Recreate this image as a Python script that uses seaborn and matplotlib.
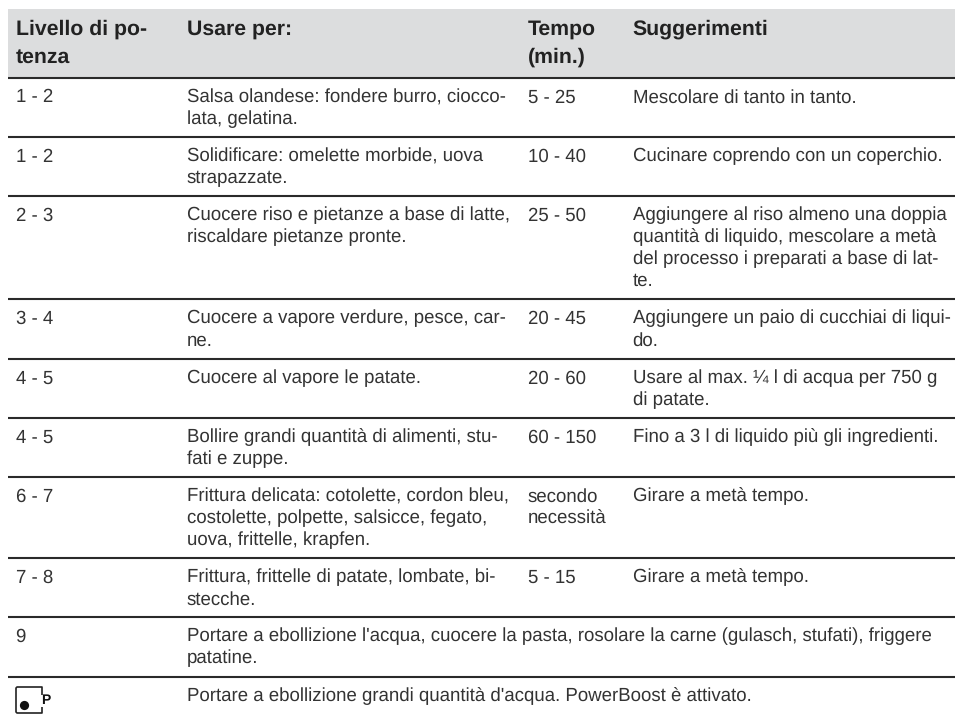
"""
Cooking table for the induction hob, drawn on a full-figure axes.
"""
import matplotlib
matplotlib.use('Agg')
import matplotlib.pyplot as plt
import seaborn as sns

headers = ['Livello di po-\ntenza', 'Usare per:', 'Tempo\n(min.)', 'Suggerimenti']

levels = ['1 - 2', '1 - 2', '2 - 3', '3 - 4', '4 - 5', '4 - 5', '6 - 7', '7 - 8', '9', '']

uses = [
    'Salsa olandese: fondere burro, ciocco-\nlata, gelatina.',
    'Solidificare: omelette morbide, uova\nstrapazzate.',
    'Cuocere riso e pietanze a base di latte,\nriscaldare pietanze pronte.',
    'Cuocere a vapore verdure, pesce, car-\nne.',
    'Cuocere al vapore le patate.',
    'Bollire grandi quantità di alimenti, stu-\nfati e zuppe.',
    'Frittura delicata: cotolette, cordon bleu,\ncostolette, polpette, salsicce, fegato,\nuova, frittelle, krapfen.',
    'Frittura, frittelle di patate, lombate, bi-\nstecche.',
    "Portare a ebollizione l'acqua, cuocere la pasta, rosolare la carne (gulasch, stufati), friggere\npatatine.",
    "Portare a ebollizione grandi quantità d'acqua. PowerBoost è attivato.",
]

times = ['5 - 25', '10 - 40', '25 - 50', '20 - 45', '20 - 60', '60 - 150',
         'secondo\nnecessità', '5 - 15', '', '']

hints = [
    'Mescolare di tanto in tanto.',
    'Cucinare coprendo con un coperchio.',
    'Aggiungere al riso almeno una doppia\nquantità di liquido, mescolare a metà\ndel processo i preparati a base di lat-\nte.',
    'Aggiungere un paio di cucchiai di liqui-\ndo.',
    'Usare al max. ¼ l di acqua per 750 g\ndi patate.',
    'Fino a 3 l di liquido più gli ingredienti.',
    'Girare a metà tempo.',
    'Girare a metà tempo.',
    '',
    '',
]

# rule under the header and under each row, in pixels from the top
rule_y = [78, 137, 196, 299, 359, 418, 477, 558, 617, 677]
col_x = [16, 187, 528, 633]

sns.set_theme(style='white')
plt.rcParams['font.family'] = ['Liberation Sans', 'DejaVu Sans']
plt.rcParams['text.hinting'] = 'no_hinting'

fig, ax = plt.subplots(figsize=(9.55, 7.21), dpi=100)
fig.subplots_adjust(0, 0, 1, 1)
ax.set_xlim(0, 955)
ax.set_ylim(721, 0)
ax.set_axis_off()
sns.despine(ax=ax, left=True, bottom=True)

BODY = '#333333'
HEAD = '#222222'
SIZE = 13.4


def put(x, y, text, pitch=21.9, **kw):
    for i, line in enumerate(text.split('\n')):
        ax.text(x, y + i * pitch, line, va='baseline', ha='left', **kw)


# header band
ax.fill_between([8, 955], 9, 78, color='#dcddde', lw=0)
for x, label in zip(col_x, headers):
    put(x - 0.5, 34.5, label, pitch=28, fontsize=15.3, fontweight='bold', color=HEAD)

# rules
ax.hlines(rule_y, 8, 955, color='#2a2a2a', lw=1.5)

# rows
for i, top in enumerate(rule_y):
    base = top + 24.5
    for x, col in zip(col_x, (levels, uses, times, hints)):
        if col[i]:
            put(x - 0.5, base, col[i], fontsize=SIZE, color=BODY)

# PowerBoost symbol in the last row
ax.plot([42, 42, 17, 16, 16, 17, 42, 42], [695, 687, 687, 688, 712, 713, 713, 707],
        color='#222222', lw=1.2, solid_capstyle='butt')
ax.scatter([24], [705], s=44, color='#111111', linewidths=0)
ax.text(41, 704, 'P', fontsize=10, fontweight='bold', color='#111111', va='baseline', ha='left')

fig.savefig('out.png', dpi=100)
plt.close(fig)
